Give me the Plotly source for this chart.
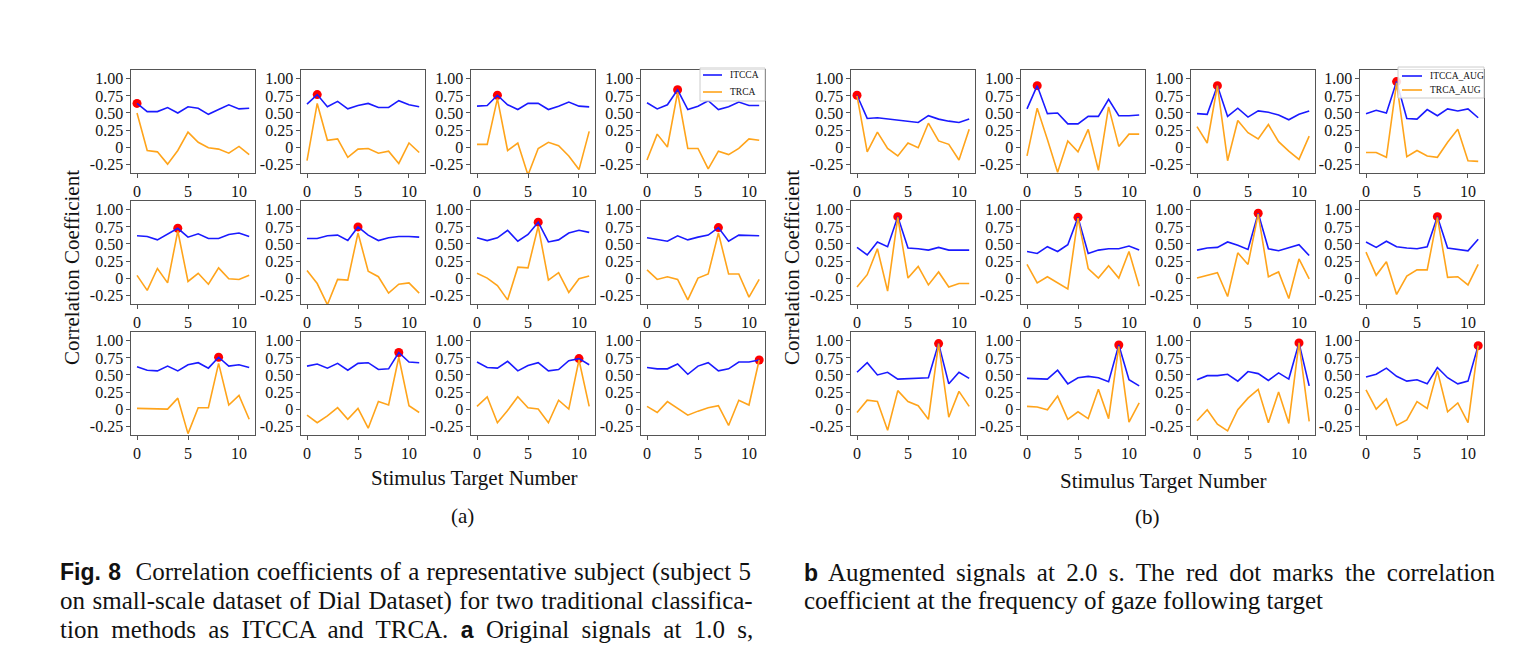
import plotly.graph_objects as go

# ---------------- data ----------------
x_targets = list(range(12))
target_index = list(range(12))
y_tick_vals = [-0.25, 0, 0.25, 0.5, 0.75, 1.0]
y_tick_text = ["-0.25", "0", "0.25", "0.50", "0.75", "1.00"]
x_tick_vals = [0, 5, 10]
x_tick_text = ["0", "5", "10"]

itcca_orig = [
    [0.64, 0.52, 0.52, 0.58, 0.50, 0.59, 0.57, 0.48, 0.55, 0.62, 0.56, 0.57],
    [0.63, 0.77, 0.59, 0.67, 0.56, 0.61, 0.64, 0.58, 0.58, 0.68, 0.62, 0.59],
    [0.60, 0.61, 0.76, 0.62, 0.55, 0.64, 0.64, 0.55, 0.60, 0.66, 0.60, 0.59],
    [0.65, 0.56, 0.62, 0.84, 0.55, 0.60, 0.68, 0.55, 0.59, 0.66, 0.61, 0.61],
    [0.62, 0.61, 0.56, 0.65, 0.73, 0.60, 0.65, 0.58, 0.58, 0.64, 0.66, 0.61],
    [0.58, 0.58, 0.62, 0.63, 0.55, 0.75, 0.63, 0.55, 0.59, 0.61, 0.61, 0.60],
    [0.59, 0.55, 0.59, 0.70, 0.54, 0.64, 0.82, 0.53, 0.56, 0.66, 0.70, 0.67],
    [0.59, 0.56, 0.54, 0.62, 0.56, 0.60, 0.63, 0.74, 0.54, 0.63, 0.63, 0.62],
    [0.62, 0.57, 0.56, 0.63, 0.56, 0.65, 0.68, 0.60, 0.76, 0.63, 0.65, 0.61],
    [0.63, 0.66, 0.60, 0.67, 0.57, 0.67, 0.68, 0.58, 0.59, 0.83, 0.69, 0.68],
    [0.69, 0.61, 0.60, 0.70, 0.56, 0.64, 0.68, 0.56, 0.58, 0.71, 0.74, 0.65],
    [0.61, 0.59, 0.59, 0.66, 0.51, 0.63, 0.68, 0.56, 0.59, 0.69, 0.69, 0.72],
]
trca_orig = [
    [0.50, -0.05, -0.07, -0.25, -0.05, 0.22, 0.07, -0.01, -0.03, -0.09, 0.01, -0.11],
    [-0.20, 0.64, 0.10, 0.12, -0.15, -0.03, -0.02, -0.09, -0.06, -0.24, 0.06, -0.08],
    [0.04, 0.04, 0.71, -0.05, 0.06, -0.41, -0.02, 0.07, 0.02, -0.13, -0.33, 0.23],
    [-0.19, 0.19, 0.00, 0.80, -0.02, -0.02, -0.32, -0.06, -0.11, -0.02, 0.12, 0.10],
    [0.04, -0.18, 0.14, -0.07, 0.69, -0.05, 0.07, -0.09, 0.15, -0.01, -0.02, 0.04],
    [0.11, -0.08, -0.39, -0.02, -0.03, 0.66, 0.10, 0.02, -0.22, -0.09, -0.07, -0.22],
    [0.07, 0.00, -0.11, -0.32, 0.16, 0.15, 0.76, -0.03, 0.08, -0.21, -0.01, 0.03],
    [0.12, -0.02, 0.02, -0.02, -0.32, 0.00, 0.06, 0.66, 0.06, 0.06, -0.28, -0.02],
    [0.01, 0.01, 0.00, 0.00, 0.16, -0.36, 0.02, 0.02, 0.67, 0.06, 0.20, -0.15],
    [-0.09, -0.20, -0.10, 0.02, -0.15, 0.01, -0.28, 0.11, 0.06, 0.76, 0.05, -0.05],
    [0.04, 0.18, -0.20, -0.02, 0.18, 0.02, 0.00, -0.20, 0.13, 0.00, 0.72, 0.04],
    [0.04, -0.05, 0.11, 0.01, -0.09, -0.03, 0.02, 0.05, -0.24, 0.13, 0.06, 0.72],
]
itcca_aug = [
    [0.76, 0.42, 0.43, 0.41, 0.40, 0.37, 0.36, 0.46, 0.41, 0.38, 0.36, 0.41],
    [0.56, 0.90, 0.49, 0.50, 0.34, 0.34, 0.45, 0.45, 0.70, 0.46, 0.46, 0.47],
    [0.49, 0.48, 0.90, 0.45, 0.57, 0.44, 0.53, 0.51, 0.47, 0.40, 0.48, 0.53],
    [0.49, 0.54, 0.50, 0.96, 0.42, 0.41, 0.55, 0.46, 0.56, 0.53, 0.56, 0.43],
    [0.45, 0.34, 0.53, 0.46, 0.90, 0.44, 0.43, 0.41, 0.45, 0.41, 0.41, 0.41],
    [0.39, 0.36, 0.46, 0.39, 0.49, 0.89, 0.36, 0.41, 0.43, 0.43, 0.47, 0.41],
    [0.41, 0.44, 0.45, 0.53, 0.48, 0.42, 0.95, 0.43, 0.40, 0.45, 0.49, 0.33],
    [0.53, 0.45, 0.54, 0.46, 0.44, 0.43, 0.46, 0.90, 0.44, 0.42, 0.40, 0.57],
    [0.54, 0.68, 0.50, 0.54, 0.44, 0.45, 0.46, 0.46, 0.96, 0.37, 0.54, 0.45],
    [0.45, 0.45, 0.44, 0.57, 0.37, 0.46, 0.48, 0.46, 0.40, 0.94, 0.43, 0.34],
    [0.43, 0.49, 0.49, 0.51, 0.41, 0.55, 0.52, 0.42, 0.53, 0.44, 0.97, 0.34],
    [0.47, 0.51, 0.60, 0.48, 0.41, 0.43, 0.37, 0.61, 0.46, 0.37, 0.41, 0.93],
]
trca_aug = [
    [0.75, -0.07, 0.22, -0.02, -0.13, 0.06, -0.01, 0.35, 0.09, 0.04, -0.19, 0.26],
    [-0.13, 0.57, 0.11, -0.37, 0.09, -0.07, 0.26, -0.34, 0.59, 0.01, 0.19, 0.19],
    [0.30, 0.06, 0.90, -0.20, 0.39, 0.21, 0.12, 0.33, 0.08, -0.06, -0.18, 0.16],
    [-0.08, -0.08, -0.15, 0.94, -0.14, -0.05, -0.13, -0.15, 0.07, 0.26, -0.20, -0.21],
    [-0.13, 0.05, 0.43, -0.19, 0.89, 0.00, 0.17, -0.10, 0.09, -0.13, -0.08, -0.08],
    [0.20, -0.07, 0.02, -0.07, -0.16, 0.88, 0.14, 0.00, 0.18, 0.00, 0.39, -0.12],
    [0.00, 0.04, 0.08, -0.27, 0.37, 0.20, 0.94, 0.02, 0.09, -0.30, 0.28, -0.01],
    [0.38, 0.04, 0.24, -0.24, 0.03, 0.12, 0.12, 0.89, 0.01, 0.02, -0.10, 0.20],
    [-0.05, 0.13, 0.11, -0.31, 0.27, 0.11, 0.05, -0.15, 0.96, -0.12, 0.26, 0.04],
    [0.04, 0.03, -0.01, 0.19, -0.15, -0.04, -0.14, 0.29, -0.14, 0.92, -0.19, 0.09],
    [-0.17, -0.01, -0.22, -0.32, -0.01, 0.16, 0.29, -0.20, 0.25, -0.21, 0.97, -0.18],
    [0.28, 0.00, 0.15, -0.24, -0.16, 0.11, 0.01, 0.56, -0.04, 0.09, -0.20, 0.93],
]

# ---------------- layout geometry (pixels) ----------------
W, H = 1519, 655
SERIF = "Liberation Serif, Times New Roman, serif"
X_RANGE = [-0.55, 11.55]
Y_RANGE = [-0.38, 1.13]
BOX_W = 123.4
BOX_H = 103
BLUE = "#1a1aff"
ORANGE = "#ffa41b"
col_left = {"a": [131.4, 301.4, 471.4, 641.4], "b": [851.4, 1021.4, 1191.4, 1360.4]}
row_top = [70, 201, 332]


def px_x(p):
    return p / W


def px_y(p):
    return 1 - p / H


fig = go.Figure()
layout = {}
n = 0
panels = [("a", itcca_orig, trca_orig, "ITCCA", "TRCA"),
          ("b", itcca_aug, trca_aug, "ITCCA_AUG", "TRCA_AUG")]
for panel, it_data, tr_data, it_name, tr_name in panels:
    for k in range(12):
        n += 1
        r, c = divmod(k, 4)
        xa = "x" if n == 1 else f"x{n}"
        ya = "y" if n == 1 else f"y{n}"
        left = col_left[panel][c]
        top = row_top[r]
        t = target_index[k]
        fig.add_trace(go.Scatter(
            x=[x_targets[t]], y=[it_data[k][t]], mode="markers",
            marker=dict(color="red", size=9), showlegend=False,
            xaxis=xa, yaxis=ya))
        fig.add_trace(go.Scatter(
            x=x_targets, y=it_data[k], mode="lines", name=it_name,
            line=dict(color=BLUE, width=1.6), showlegend=False,
            xaxis=xa, yaxis=ya))
        fig.add_trace(go.Scatter(
            x=x_targets, y=tr_data[k], mode="lines", name=tr_name,
            line=dict(color=ORANGE, width=1.6), showlegend=False,
            xaxis=xa, yaxis=ya))
        axis_common = dict(showline=True, linecolor="#555", linewidth=1,
                           mirror=True, showgrid=False, zeroline=False,
                           ticks="outside", ticklen=4, tickcolor="#555",
                           tickfont=dict(family=SERIF, size=16, color="#111"))
        layout["xaxis" if n == 1 else f"xaxis{n}"] = dict(
            axis_common, domain=[px_x(left), px_x(left + BOX_W)],
            range=X_RANGE, tickvals=x_tick_vals, ticktext=x_tick_text,
            anchor=ya)
        layout["yaxis" if n == 1 else f"yaxis{n}"] = dict(
            axis_common, domain=[px_y(top + BOX_H), px_y(top)],
            range=Y_RANGE, tickvals=y_tick_vals, ticktext=y_tick_text,
            anchor=xa)

annotations = []
shapes = []


def add_text(text, x, y, size, xanchor="center", angle=0, family=SERIF):
    annotations.append(dict(text=text, x=px_x(x), y=px_y(y), xref="paper",
                            yref="paper", showarrow=False, xanchor=xanchor,
                            yanchor="middle", textangle=angle,
                            font=dict(family=family, size=size, color="#111")))


# legends (matplotlib style, drawn in the top-right subplot of each panel)
legend_specs = [
    (700, 765, 68, 101, 703, 722, [75, 92], ["ITCCA", "TRCA"]),
    (1398, 1484, 67, 98, 1402, 1422, [76, 90], ["ITCCA_AUG", "TRCA_AUG"]),
]
for x0, x1, y0, y1, lx0, lx1, ys, names in legend_specs:
    shapes.append(dict(type="rect", xref="paper", yref="paper",
                       x0=px_x(x0), x1=px_x(x1), y0=px_y(y1), y1=px_y(y0),
                       fillcolor="rgba(255,255,255,0.85)",
                       line=dict(color="#cccccc", width=1), layer="above"))
    for yy, nm, col in zip(ys, names, [BLUE, ORANGE]):
        shapes.append(dict(type="line", xref="paper", yref="paper",
                           x0=px_x(lx0), x1=px_x(lx1), y0=px_y(yy), y1=px_y(yy),
                           line=dict(color=col, width=1.6), layer="above"))
        add_text(nm, lx1 + 6, yy, 9.5, xanchor="left")

add_text("Correlation Coefficient", 72, 268, 21, angle=-90)
add_text("Correlation Coefficient", 792, 268, 21, angle=-90)
add_text("Stimulus Target Number", 475, 478, 21)
add_text("Stimulus Target Number", 1163, 481, 21)
add_text("(a)", 462, 516, 21)
add_text("(b)", 1147, 517, 21)


def bold(s):
    return f"<b><span style=\"font-family:Liberation Sans;font-size:23px\">{s}</span></b>"


def justify(s, ws):
    return f"<span style=\"word-spacing:{ws}px\">{s}</span>"


caption_left = [
    (bold("Fig. 8") + "  Correlation coefficients of a representative subject (subject 5", 1.0),
    ("on small-scale dataset of Dial Dataset) for two traditional classifica-", 1.3),
    ("tion methods as ITCCA and TRCA. " + bold("a") + " Original signals at 1.0 s,", 6.1),
]
caption_right = [
    (bold("b") + " Augmented signals at 2.0 s. The red dot marks the correlation", 5.1),
    ("coefficient at the frequency of gaze following target", 0),
]
CAP = 25
for i, (line, ws) in enumerate(caption_left):
    add_text(justify(line, ws), 58, 572 + 28.5 * i, CAP, xanchor="left")
for i, (line, ws) in enumerate(caption_right):
    add_text(justify(line, ws), 802, 572 + 28.5 * i, CAP, xanchor="left")

layout.update(
    width=W, height=H, margin=dict(l=0, r=0, t=0, b=0),
    paper_bgcolor="white", plot_bgcolor="white",
    annotations=annotations, shapes=shapes, showlegend=False,
)
fig.update_layout(layout)
fig.write_html("out.html")
